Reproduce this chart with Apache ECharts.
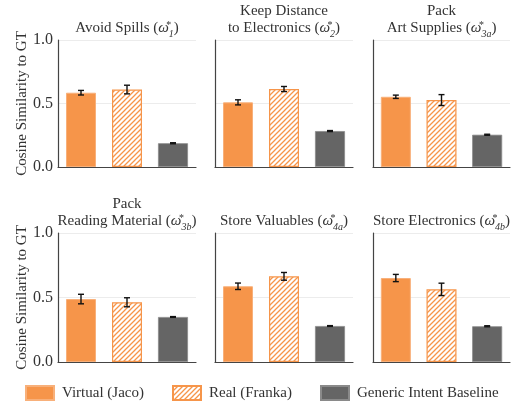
<!DOCTYPE html>
<html>
<head>
<meta charset="utf-8">
<script src="https://cdn.jsdelivr.net/npm/echarts@6/dist/echarts.min.js"></script>
<style>
  html, body { margin: 0; padding: 0; background: #fff; }
  #chart { width: 521px; height: 407px; }
</style>
</head>
<body>
<div id="chart"></div>
<script>
// Per-task cosine similarity to ground truth, mean and error.
const titleLines = [
  ['Avoid Spills'],
  ['Keep Distance', 'to Electronics'],
  ['Pack', 'Art Supplies'],
  ['Pack', 'Reading Material'],
  ['Store Valuables'],
  ['Store Electronics']
];
const omegaSubs = ['1', '2', '3a', '3b', '4a', '4b'];
const seriesNames = ['Virtual (Jaco)', 'Real (Franka)', 'Generic Intent Baseline'];
const categories = ['Jaco', 'Franka', 'Baseline'];

const jaco        = [0.585, 0.509, 0.553, 0.488, 0.587, 0.651];
const jacoErr     = [0.018, 0.020, 0.013, 0.037, 0.025, 0.028];
const franka      = [0.610, 0.614, 0.527, 0.463, 0.664, 0.563];
const frankaErr   = [0.034, 0.020, 0.043, 0.035, 0.030, 0.048];
const baseline    = [0.187, 0.283, 0.254, 0.349, 0.279, 0.277];
const baselineErr = [0.004, 0.004, 0.004, 0.003, 0.003, 0.004];

const yTicks = [0, 0.5, 1.0];

const ORANGE = '#f6954a';
const GRAY = '#656565';
const FONT = 'Liberation Serif';

// diagonal hatch fill for the real-robot bars
function hatch() {
  const s = 5;
  const c = document.createElement('canvas');
  c.width = s; c.height = s;
  const g = c.getContext('2d');
  g.fillStyle = '#fff';
  g.fillRect(0, 0, s, s);
  g.strokeStyle = ORANGE;
  g.lineWidth = 1.3;
  g.beginPath();
  g.moveTo(-1, s + 1); g.lineTo(s + 1, -1);
  g.moveTo(-1, 1); g.lineTo(1, -1);
  g.moveTo(s - 1, s + 1); g.lineTo(s + 1, s - 1);
  g.stroke();
  return c;
}
const hatchFill = { image: hatch(), repeat: 'repeat' };

const panels = [
  { left: 58,  top: 40,  width: 138, height: 127 },
  { left: 215, top: 40,  width: 138, height: 127 },
  { left: 373, top: 40,  width: 137, height: 127 },
  { left: 58,  top: 233, width: 138, height: 129 },
  { left: 215, top: 233, width: 138, height: 129 },
  { left: 373, top: 233, width: 137, height: 129 }
];

const grid = [], xAxis = [], yAxis = [], series = [], title = [];

panels.forEach((p, i) => {
  grid.push({ left: p.left, top: p.top, width: p.width, height: p.height, containLabel: false });
  xAxis.push({
    type: 'category', gridIndex: i, data: categories,
    axisLine: { lineStyle: { color: '#444', width: 1.2 } },
    axisTick: { show: false }, axisLabel: { show: false }, splitLine: { show: false }
  });
  const first = i % 3 === 0;
  yAxis.push({
    type: 'value', gridIndex: i, min: 0, max: 1, interval: 0.5,
    axisLine: { show: true, lineStyle: { color: '#444', width: 1.2 } },
    axisTick: { show: false },
    axisLabel: {
      show: first, margin: 5, color: '#333', fontFamily: FONT, fontSize: 16,
      formatter: v => yTicks.includes(v) ? v.toFixed(1) : ''
    },
    splitLine: { show: true, lineStyle: { color: '#ececec', width: 1 } },
    name: first ? 'Cosine Similarity to GT' : '',
    nameLocation: 'middle', nameGap: 28, nameRotate: 90,
    nameTextStyle: { color: '#333', fontFamily: FONT, fontSize: 15 }
  });

  const vals = [jaco[i], franka[i], baseline[i]];
  const errs = [jacoErr[i], frankaErr[i], baselineErr[i]];
  const styles = [
    { color: ORANGE, borderColor: '#f8b07a', borderWidth: 1 },
    { color: hatchFill, borderColor: ORANGE, borderWidth: 1.2 },
    { color: GRAY, borderColor: '#8a8a8a', borderWidth: 0.8 }
  ];
  seriesNames.forEach((name, k) => {
    const data = categories.map((_, c) => (c === k ? vals[k] : '-'));
    series.push({
      type: 'bar', name, xAxisIndex: i, yAxisIndex: i, data,
      barWidth: 30, barGap: '-100%', itemStyle: styles[k], silent: true
    });
  });
  series.push({
    type: 'custom', xAxisIndex: i, yAxisIndex: i, silent: true, z: 10,
    data: vals.map((v, c) => [c, v, errs[c]]),
    renderItem: (params, api) => {
      const c = api.value(0), v = api.value(1), e = api.value(2);
      const hi = api.coord([c, v + e]);
      const lo = api.coord([c, v - e]);
      const cap = 3;
      const st = { stroke: '#111', lineWidth: 1.4 };
      return {
        type: 'group',
        children: [
          { type: 'line', shape: { x1: hi[0], y1: hi[1], x2: lo[0], y2: lo[1] }, style: st },
          { type: 'line', shape: { x1: hi[0] - cap, y1: hi[1], x2: hi[0] + cap, y2: hi[1] }, style: st },
          { type: 'line', shape: { x1: lo[0] - cap, y1: lo[1], x2: lo[0] + cap, y2: lo[1] }, style: st }
        ]
      };
    }
  });

  const lines = titleLines[i];
  let text = '';
  if (lines.length === 2) text += '{b|' + lines[0] + '}\n';
  text += '{b|' + lines[lines.length - 1] + ' (}{w|ω}{sup|*}{sub|' + omegaSubs[i] + '}{b|)}';
  const lineH = 17;
  const bottomY = p.top - 3;
  title.push({
    text,
    left: p.left + p.width / 2,
    top: bottomY - lineH * lines.length,
    textAlign: 'center',
    padding: 0,
    textStyle: {
      fontWeight: 'normal',
      lineHeight: lineH,
      rich: {
        b: { fontFamily: FONT, fontSize: 15, fontWeight: 'normal', color: '#333', lineHeight: lineH },
        w: { fontFamily: FONT, fontSize: 15, fontWeight: 'normal', color: '#333', fontStyle: 'italic', lineHeight: lineH },
        sup: { fontFamily: FONT, fontSize: 10, fontWeight: 'normal', color: '#333', verticalAlign: 'top', width: 0, align: 'left', lineHeight: lineH },
        sub: { fontFamily: FONT, fontSize: 10, fontWeight: 'normal', color: '#333', fontStyle: 'italic', verticalAlign: 'bottom', lineHeight: lineH, padding: [0, 0, -2, 0] }
      }
    }
  });
});

const legendPos = [25, 172, 320];
const legend = seriesNames.map((name, k) => ({
  data: [name],
  left: legendPos[k], top: 385,
  padding: 0,
  icon: 'rect', itemWidth: 28, itemHeight: 14,
  selectedMode: false,
  textStyle: { fontFamily: FONT, fontSize: 15, color: '#333', padding: [0, 0, 0, 3] }
}));

const chart = echarts.init(document.getElementById('chart'), null, { renderer: 'canvas' });
chart.setOption({
  animation: false,
  backgroundColor: '#fff',
  title, grid, xAxis, yAxis, series, legend
});
</script>
</body>
</html>
